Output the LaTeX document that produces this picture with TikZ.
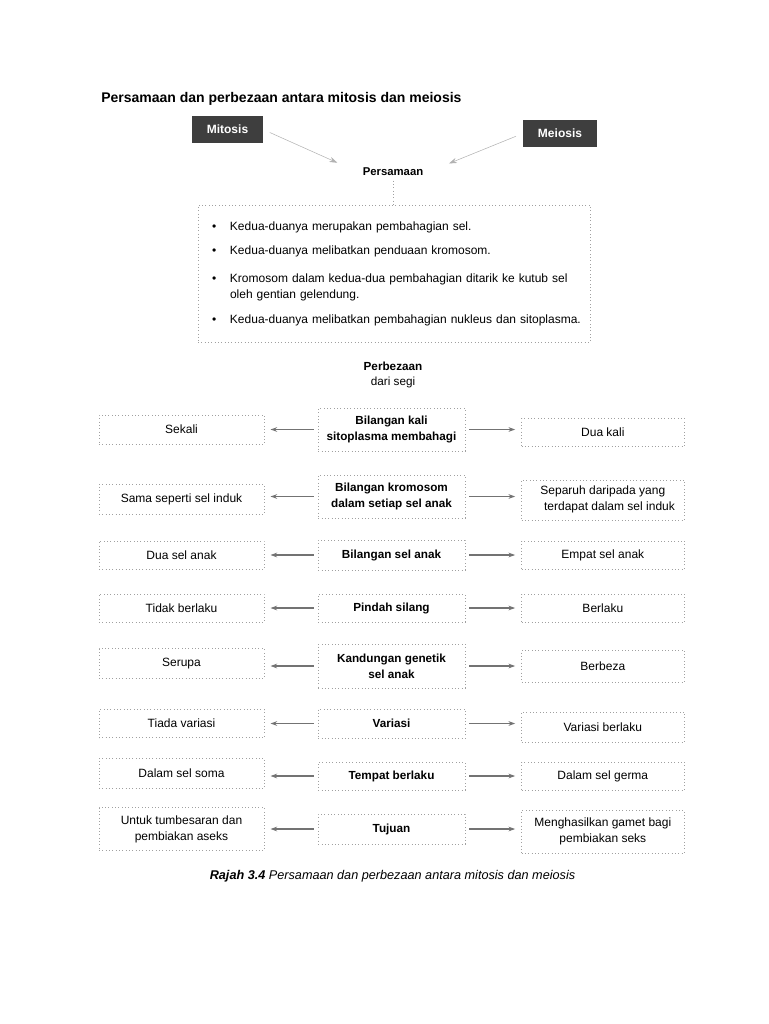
\documentclass[tikz,border=0pt]{standalone}
\usepackage{fontspec}
\setmainfont{Liberation Sans}
\usetikzlibrary{arrows.meta, positioning}
\definecolor{boxgray}{RGB}{160,160,160}
\definecolor{arrowgray}{RGB}{115,115,115}
\definecolor{tabgray}{RGB}{62,62,62}

\begin{document}
\begin{tikzpicture}[x=0.75pt, y=-0.75pt,
    node distance=40pt,
    tab/.style={rectangle, fill=tabgray, text=white, font=\fontsize{9}{11}\selectfont\bfseries, minimum height=20pt, inner sep=0pt},
    aspect/.style={rectangle, draw=boxgray, dotted, line width=0.5pt, minimum width=110pt, align=center, font=\fontsize{8.8}{12}\selectfont\bfseries, inner sep=0pt},
    mitobox/.style={rectangle, draw=boxgray, dotted, line width=0.5pt, minimum width=124pt, align=center, font=\fontsize{9}{12}\selectfont, inner sep=0pt},
    meiobox/.style={rectangle, draw=boxgray, dotted, line width=0.5pt, minimum width=122pt, align=center, font=\fontsize{9}{12}\selectfont, inner sep=0pt},
    arrow/.style={-{Stealth[length=5pt, width=3.5pt]}, line width=1.1pt, arrowgray, shorten <=3pt, shorten >=4.5pt},
    thinarrow/.style={-{Stealth[length=6pt, width=4pt]}, line width=0.4pt, gray!60},
    heading/.style={font=\fontsize{8.8}{11.25}\selectfont, align=center}
]
\useasboundingbox (0,0) rectangle (768,1024);

% === Title and top tabs ===
\node[anchor=base west, font=\fontsize{10.5}{12}\selectfont\bfseries, inner sep=0pt] (title) at (101,103) {Persamaan dan perbezaan antara mitosis dan meiosis};
\node[tab, minimum width=53pt] (mit) at (227.5,129.5) {Mitosis};
\node[tab, minimum width=55.5pt] (mei) at (560,133.5) {Meiosis};
\node[heading, font=\fontsize{8.5}{11}\selectfont\bfseries] (pers) at (393,172) {Persamaan};

% === Similarities ===
\node[rectangle, draw=boxgray, dotted, line width=0.5pt, minimum height=103pt, text width=273pt, inner xsep=10.5pt, font=\fontsize{9}{12}\selectfont] (sama) at (394,273.5) {%
\begin{tabular}{@{}p{13.5pt}@{}l@{}}
\textbullet & Kedua-duanya merupakan pembahagian sel. \\[6pt]
\textbullet & Kedua-duanya melibatkan penduaan kromosom. \\[9pt]
\textbullet & Kromosom dalam kedua-dua pembahagian ditarik ke kutub sel \\
 & oleh gentian gelendung. \\[7pt]
\textbullet & Kedua-duanya melibatkan pembahagian nukleus dan sitoplasma.
\end{tabular}};

\node[heading] (beza) at (393,374.5) {\textbf{Perbezaan}\\dari segi};

% === Differences (middle column) ===
\node[aspect, minimum height=32pt] (m1) at (391.5,429.5) {Bilangan kali\\sitoplasma membahagi};
\node[aspect, minimum height=32pt] (m2) at (391.5,496.5) {Bilangan kromosom\\dalam setiap sel anak};
\node[aspect, minimum height=22.5pt] (m3) at (391.5,555) {Bilangan sel anak};
\node[aspect, minimum height=21pt] (m4) at (391.5,608) {Pindah silang};
\node[aspect, minimum height=33pt] (m5) at (391.5,666) {Kandungan genetik\\sel anak};
\node[aspect, minimum height=22pt] (m6) at (391.5,723.5) {Variasi};
\node[aspect, minimum height=21pt] (m7) at (391.5,776) {Tempat berlaku};
\node[aspect, minimum height=22.5pt] (m8) at (391.5,829) {Tujuan};

% === Mitosis (left column) ===
\node[mitobox, minimum height=22pt, left=of m1] (l1) {Sekali};
\node[mitobox, minimum height=22.5pt, left=of m2, yshift=-2pt] (l2) {Sama seperti sel induk};
\node[mitobox, minimum height=21pt, left=of m3] (l3) {Dua sel anak};
\node[mitobox, minimum height=21pt, left=of m4] (l4) {Tidak berlaku};
\node[mitobox, minimum height=22pt, left=of m5, yshift=2pt] (l5) {Serupa};
\node[mitobox, minimum height=21pt, left=of m6] (l6) {Tiada variasi};
\node[mitobox, minimum height=22.5pt, left=of m7, yshift=2pt] (l7) {Dalam sel soma};
\node[mitobox, minimum height=32pt, left=of m8] (l8) {Untuk tumbesaran dan\\pembiakan aseks};

% === Meiosis (right column) ===
\node[meiobox, minimum height=21pt, right=42pt of m1, yshift=-2pt] (r1) {Dua kali};
\node[meiobox, minimum height=30pt, right=42pt of m2, yshift=-2.5pt] (r2) {Separuh daripada yang\\\hspace*{10pt}terdapat dalam sel induk};
\node[meiobox, minimum height=21pt, right=42pt of m3] (r3) {Empat sel anak};
\node[meiobox, minimum height=21pt, right=42pt of m4] (r4) {Berlaku};
\node[meiobox, minimum height=24pt, right=42pt of m5] (r5) {Berbeza};
\node[meiobox, minimum height=22.5pt, right=42pt of m6, yshift=-2.5pt] (r6) {Variasi berlaku};
\node[meiobox, minimum height=21pt, right=42pt of m7] (r7) {Dalam sel germa};
\node[meiobox, minimum height=32pt, right=42pt of m8, yshift=-2pt] (r8) {Menghasilkan gamet bagi\\pembiakan seks};

% === Caption ===
\node[font=\fontsize{9.5}{12}\selectfont] (caption) at (392.5,876) {\textbf{\textit{Rajah 3.4}} \textit{Persamaan dan perbezaan antara mitosis dan meiosis}};

% === Arrows ===
\draw[thinarrow, shorten <=5.5pt, shorten >=17pt] (mit.east) -- (pers.west);
\draw[thinarrow, shorten <=5.5pt, shorten >=17pt] (mei.west) -- (pers.east);
\draw[boxgray, dotted, line width=0.5pt] (pers.south) -- (pers.south |- sama.north);

\foreach \i in {1,...,8}{
    \draw[arrow] (m\i.west) -- (l\i.east |- m\i.west);
    \draw[arrow] (m\i.east) -- (r\i.west |- m\i.east);
}

\end{tikzpicture}
\end{document}
